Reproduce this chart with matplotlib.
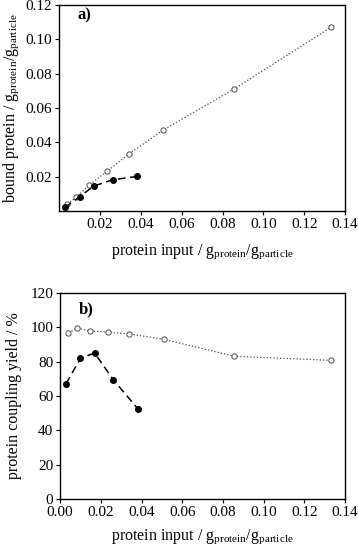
import matplotlib
matplotlib.use("Agg")
import matplotlib.pyplot as plt

plt.rcParams["font.family"] = ["Liberation Serif", "DejaVu Serif"]
plt.rcParams["mathtext.fontset"] = "custom"
plt.rcParams["mathtext.rm"] = "Liberation Serif"
plt.rcParams["mathtext.it"] = "Liberation Serif:italic"

# open circles series
x_open = [0.0041, 0.0085, 0.0147, 0.0234, 0.0340, 0.0508, 0.0856, 0.1331]
bound_open = [0.004, 0.008, 0.015, 0.023, 0.033, 0.047, 0.071, 0.107]
yield_open = [97.0, 99.5, 98.0, 97.2, 96.2, 93.1, 83.2, 80.8]

# filled circles series
x_fill = [0.0029, 0.0100, 0.0169, 0.0262, 0.0383]
bound_fill = [0.002, 0.0082, 0.0144, 0.0181, 0.0201]
yield_fill = [67.2, 82.0, 85.1, 69.4, 52.4]

xlab = r"protein input / g$_{\mathrm{protein}}$/g$_{\mathrm{particle}}$"

fig = plt.figure(figsize=(3.58, 5.52), dpi=100)
ax1 = fig.add_axes([0.165, 0.618, 0.799, 0.373])
ax2 = fig.add_axes([0.168, 0.096, 0.796, 0.373])

def style(ax):
    for s in ax.spines.values():
        s.set_linewidth(1.0)
    ax.tick_params(direction="out", length=3, width=0.8, labelsize=11,
                   pad=2)

# panel a
ax1.plot(x_open, bound_open, ls=":", color="0.3", lw=0.9, marker="o",
         mfc="white", mec="0.3", ms=3.8, mew=0.7)
ax1.plot(x_fill, bound_fill, ls=(0, (5, 3)), color="black", lw=1.1,
         marker="o", mfc="black", mec="black", ms=4)
ax1.set_xlim(0, 0.14)
ax1.set_ylim(0, 0.12)
ax1.set_xticks([0.02, 0.04, 0.06, 0.08, 0.10, 0.12, 0.14])
ax1.set_yticks([0.02, 0.04, 0.06, 0.08, 0.10, 0.12])
ax1.set_xticklabels(["%.2f" % v for v in ax1.get_xticks()])
ax1.set_yticklabels(["%.2f" % v for v in ax1.get_yticks()])
ax1.set_xlabel(xlab, fontsize=11.5, labelpad=8)
ax1.set_ylabel(r"bound protein / g$_{\mathrm{protein}}$/g$_{\mathrm{particle}}$",
               fontsize=11.5, labelpad=3)
ax1.text(0.063, 0.95, "a)", transform=ax1.transAxes, fontsize=12,
         fontweight="bold", va="center")
style(ax1)

# panel b
ax2.plot(x_open, yield_open, ls=":", color="0.3", lw=0.9, marker="o",
         mfc="white", mec="0.3", ms=3.8, mew=0.7)
ax2.plot(x_fill, yield_fill, ls=(0, (5, 3)), color="black", lw=1.1,
         marker="o", mfc="black", mec="black", ms=4)
ax2.set_xlim(0, 0.14)
ax2.set_ylim(0, 120)
ax2.set_xticks([0.00, 0.02, 0.04, 0.06, 0.08, 0.10, 0.12, 0.14])
ax2.set_yticks([0, 20, 40, 60, 80, 100, 120])
ax2.set_xticklabels(["%.2f" % v for v in ax2.get_xticks()])
ax2.set_xlabel(xlab, fontsize=11.5, labelpad=6)
ax2.set_ylabel("protein coupling yield / %", fontsize=11.5, labelpad=6)
ax2.text(0.065, 0.92, "b)", transform=ax2.transAxes, fontsize=12,
         fontweight="bold", va="center")
style(ax2)

fig.savefig("out.png", dpi=100)
